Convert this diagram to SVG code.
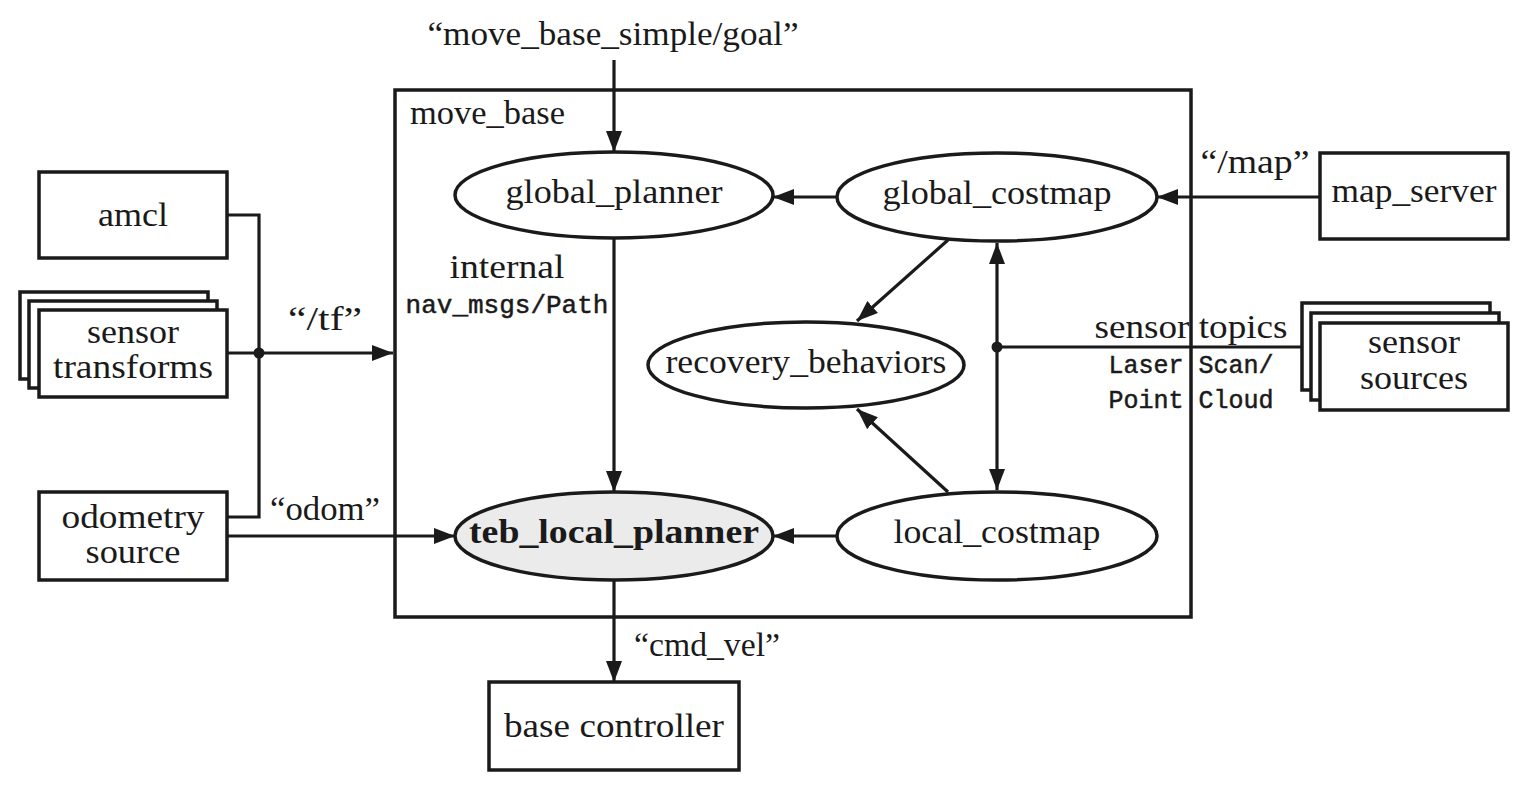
<svg xmlns="http://www.w3.org/2000/svg" width="1529" height="786" viewBox="0 0 1529 786">
<style>
.bg{fill:#ffffff}
.box{fill:#ffffff;stroke:#1a1a1a;stroke-width:3.5}
.frame{fill:none;stroke:#1a1a1a;stroke-width:3.5}
.ell{fill:#ffffff;stroke:#1a1a1a;stroke-width:3.5}
.ell.hl{fill:#ebebeb}
.ln{fill:none;stroke:#1a1a1a;stroke-width:3.2}
.dot{fill:#1a1a1a}
text{font-family:"Liberation Serif","Times New Roman",serif;font-size:34px;fill:#1a1a1a}
.c{text-anchor:middle}
.mono{font-family:"Liberation Mono","Courier New",monospace;font-size:25px;stroke:#1a1a1a;stroke-width:0.5}
.b{font-weight:bold}
</style>
<defs>
<marker id="ah" markerUnits="userSpaceOnUse" markerWidth="22" markerHeight="16" refX="21" refY="8" orient="auto-start-reverse">
<path d="M0,0 L21,8 L0,16 Z" fill="#1a1a1a"/>
</marker>
</defs>
<rect class="bg" x="0" y="0" width="1529" height="786"/>

<g id="move_base">
<rect class="frame" x="395" y="90" width="796" height="527"/>
<text x="410" y="124" textLength="155" lengthAdjust="spacingAndGlyphs">move_base</text>
</g>

<g id="connectors">
<line class="ln" x1="614" y1="60" x2="614" y2="152" marker-end="url(#ah)"/>
<line class="ln" x1="838" y1="197" x2="773" y2="197" marker-end="url(#ah)"/>
<line class="ln" x1="1320" y1="197" x2="1157" y2="197" marker-end="url(#ah)"/>
<line class="ln" x1="614" y1="239" x2="614" y2="492" marker-end="url(#ah)"/>
<line class="ln" x1="838" y1="536" x2="773" y2="536" marker-end="url(#ah)"/>
<line class="ln" x1="614" y1="580" x2="614" y2="682" marker-end="url(#ah)"/>
<line class="ln" x1="227" y1="536" x2="455" y2="536" marker-end="url(#ah)"/>
<line class="ln" x1="227" y1="353" x2="393" y2="353" marker-end="url(#ah)"/>
<polyline class="ln" points="227,215 259,215 259,517 227,517"/>
<circle class="dot" cx="259" cy="353" r="5.5"/>
<line class="ln" x1="948" y1="240" x2="857" y2="321" marker-end="url(#ah)"/>
<line class="ln" x1="948" y1="492" x2="857" y2="409" marker-end="url(#ah)"/>
<line class="ln" x1="997" y1="243" x2="997" y2="490" marker-start="url(#ah)" marker-end="url(#ah)"/>
<line class="ln" x1="997" y1="347" x2="1302" y2="347"/>
<circle class="dot" cx="997" cy="347" r="5.5"/>
</g>

<g id="labels">
<text class="c" x="613" y="45" textLength="371" lengthAdjust="spacingAndGlyphs">“move_base_simple/goal”</text>
<text class="c" x="507" y="278" textLength="115" lengthAdjust="spacingAndGlyphs">internal</text>
<text class="c mono" x="507" y="313" style="font-size:26px">nav_msgs/Path</text>
<text class="c" x="325" y="330" textLength="74" lengthAdjust="spacingAndGlyphs">“/tf”</text>
<text class="c" x="325" y="520" textLength="110" lengthAdjust="spacingAndGlyphs">“odom”</text>
<text class="c" x="707" y="656" textLength="146" lengthAdjust="spacingAndGlyphs">“cmd_vel”</text>
<text class="c" x="1255" y="173" textLength="109" lengthAdjust="spacingAndGlyphs">“/map”</text>
<text class="c" x="1191" y="338" textLength="193" lengthAdjust="spacingAndGlyphs">sensor topics</text>
<text class="c mono" x="1191" y="373">Laser Scan/</text>
<text class="c mono" x="1191" y="408">Point Cloud</text>
</g>

<g id="global_planner">
<ellipse class="ell" cx="614" cy="195" rx="159" ry="43"/>
<text class="c" x="614" y="203" textLength="217" lengthAdjust="spacingAndGlyphs">global_planner</text>
</g>

<g id="global_costmap">
<ellipse class="ell" cx="997" cy="197" rx="160" ry="44"/>
<text class="c" x="997" y="204" textLength="229" lengthAdjust="spacingAndGlyphs">global_costmap</text>
</g>

<g id="recovery_behaviors">
<ellipse class="ell" cx="806" cy="365" rx="158" ry="43"/>
<text class="c" x="806" y="373" textLength="281" lengthAdjust="spacingAndGlyphs">recovery_behaviors</text>
</g>

<g id="local_costmap">
<ellipse class="ell" cx="997" cy="536" rx="160" ry="44"/>
<text class="c" x="997" y="543" textLength="207" lengthAdjust="spacingAndGlyphs">local_costmap</text>
</g>

<g id="teb_local_planner">
<ellipse class="ell hl" cx="614" cy="536" rx="159" ry="44"/>
<text class="c b" x="614" y="543" textLength="290" lengthAdjust="spacingAndGlyphs">teb_local_planner</text>
</g>

<g id="amcl">
<rect class="box" x="39" y="172" width="188" height="86"/>
<text class="c" x="133" y="226" textLength="70" lengthAdjust="spacingAndGlyphs">amcl</text>
</g>

<g id="sensor_transforms">
<rect class="box" x="20" y="292" width="188" height="87"/>
<rect class="box" x="29" y="301" width="188" height="87"/>
<rect class="box" x="39" y="310" width="188" height="87"/>
<text class="c" x="133" y="343" textLength="92" lengthAdjust="spacingAndGlyphs">sensor</text>
<text class="c" x="133" y="378" textLength="160" lengthAdjust="spacingAndGlyphs">transforms</text>
</g>

<g id="odometry_source">
<rect class="box" x="39" y="492" width="188" height="88"/>
<text class="c" x="133" y="528" textLength="143" lengthAdjust="spacingAndGlyphs">odometry</text>
<text class="c" x="133" y="563" textLength="95" lengthAdjust="spacingAndGlyphs">source</text>
</g>

<g id="map_server">
<rect class="box" x="1320" y="153" width="188" height="86"/>
<text class="c" x="1414" y="202" textLength="165" lengthAdjust="spacingAndGlyphs">map_server</text>
</g>

<g id="sensor_sources">
<rect class="box" x="1302" y="303" width="188" height="87"/>
<rect class="box" x="1311" y="313" width="188" height="87"/>
<rect class="box" x="1320" y="323" width="188" height="87"/>
<text class="c" x="1414" y="353" textLength="92" lengthAdjust="spacingAndGlyphs">sensor</text>
<text class="c" x="1414" y="389" textLength="108" lengthAdjust="spacingAndGlyphs">sources</text>
</g>

<g id="base_controller">
<rect class="box" x="489" y="682" width="250" height="88"/>
<text class="c" x="614" y="737" textLength="220" lengthAdjust="spacingAndGlyphs">base controller</text>
</g>
</svg>
